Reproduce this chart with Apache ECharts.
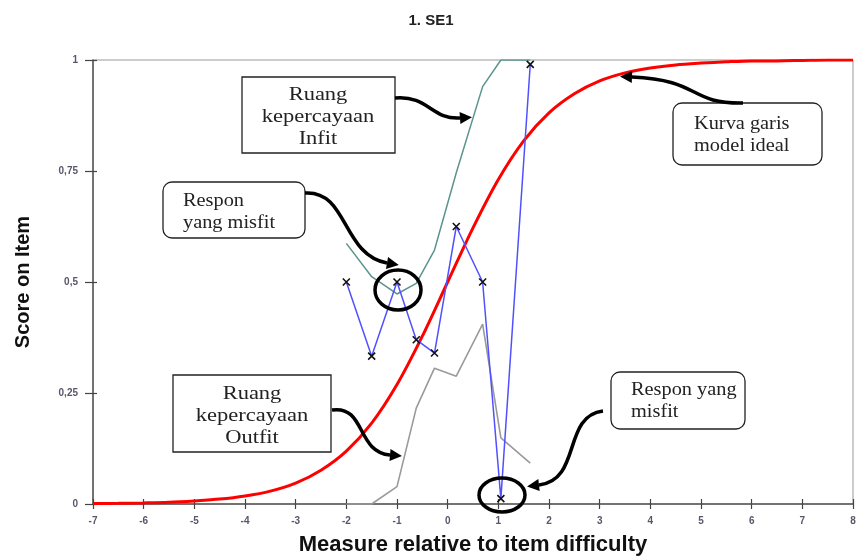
<!DOCTYPE html>
<html>
<head>
<meta charset="utf-8">
<script src="https://cdn.jsdelivr.net/npm/echarts@6.0.0/dist/echarts.min.js"></script>
<style>
  html, body { margin: 0; padding: 0; background: #fff; }
  #chart { width: 858px; height: 558px; }
</style>
</head>
<body>
<div id="chart"></div>
<script>
// item SE1
var measureX = [-2, -1.5, -1, -0.62, -0.26, 0.17, 0.69, 1.05, 1.63];
var observed = [0.5, 0.333, 0.5, 0.37, 0.34, 0.625, 0.5, 0.012, 0.99];
var infitBand = [0.587, 0.512, 0.473, 0.497, 0.572, 0.746, 0.94, 1.0, 1.0];
var outfitBand = [0, 0, 0.039, 0.216, 0.306, 0.288, 0.405, 0.149, 0.092];

// kurva model ideal
var modelX = [-7, -6.5, -6, -5.5, -5, -4.5, -4, -3.5, -3, -2.5, -2, -1.5, -1, -0.5, 0,
              0.5, 1, 1.5, 2, 2.5, 3, 3.5, 4, 4.5, 5, 5.5, 6, 6.5, 7, 7.5, 8];
var modelY = [0.001, 0.0015, 0.0025, 0.004, 0.007, 0.011, 0.018, 0.029, 0.047, 0.076, 0.119, 0.182, 0.269, 0.378, 0.5,
              0.622, 0.731, 0.818, 0.881, 0.924, 0.953, 0.971, 0.982, 0.989, 0.993, 0.996, 0.998, 0.998, 0.999, 1.0, 1.0];

var yTicks = ['0', '0,25', '0,5', '0,75', '1'];

function pairs(xs, ys) {
    var out = [];
    for (var i = 0; i < xs.length; i++) out.push([xs[i], ys[i]]);
    return out;
}

var myChart = echarts.init(document.getElementById('chart'));

var serif = '"Liberation Serif", "Times New Roman", serif';
var sans = '"Liberation Sans", Arial, sans-serif';

// kotak keterangan
function box(x, y, w, h, r, lines, tx, ty, align, sx) {
    return [
        {
            type: 'rect', z: 100,
            shape: { x: x, y: y, width: w, height: h, r: r },
            style: { fill: '#fff', stroke: '#222', lineWidth: 1.3 }
        },
        {
            type: 'text', z: 101, x: tx, y: ty, scaleX: sx,
            style: {
                text: lines, font: '18px ' + serif, fill: '#222',
                align: align, verticalAlign: 'middle', lineHeight: 22
            }
        }
    ];
}

// panah melengkung
function arrow(x0, y0, cx1, cy1, cx2, cy2, x1, y1) {
    var dx = x1 - cx2, dy = y1 - cy2;
    var len = Math.sqrt(dx * dx + dy * dy);
    dx /= len; dy /= len;
    var nx = -dy, ny = dx;
    return [
        {
            type: 'bezierCurve', z: 100,
            shape: { x1: x0, y1: y0, cpx1: cx1, cpy1: cy1, cpx2: cx2, cpy2: cy2, x2: x1, y2: y1 },
            style: { stroke: '#000', lineWidth: 3.5, fill: null }
        },
        {
            type: 'polygon', z: 100,
            shape: { points: [[x1 + dx * 12, y1 + dy * 12], [x1 + nx * 6, y1 + ny * 6], [x1 - nx * 6, y1 - ny * 6]] },
            style: { fill: '#000' }
        }
    ];
}

var graphics = [];
graphics = graphics.concat(box(242, 77, 153, 76, 0, 'Ruang\nkepercayaan\nInfit', 318, 117, 'center', 1.25));
graphics = graphics.concat(box(163, 182, 142, 56, 9, 'Respon\nyang misfit', 183, 212, 'left', 1.13));
graphics = graphics.concat(box(173, 375, 158, 77, 0, 'Ruang\nkepercayaan\nOutfit', 252, 416, 'center', 1.25));
graphics = graphics.concat(box(673, 103, 149, 62, 9, 'Kurva garis\nmodel ideal', 694, 135, 'left', 1.13));
graphics = graphics.concat(box(611, 372, 134, 57, 9, 'Respon yang\nmisfit', 631, 401, 'left', 1.13));

graphics = graphics.concat(arrow(395, 98, 428, 95, 432, 120, 460, 118));
graphics = graphics.concat(arrow(305, 193, 348, 190, 342, 255, 387, 263));
graphics = graphics.concat(arrow(332, 410, 366, 405, 356, 452, 390, 455));
graphics = graphics.concat(arrow(743, 103, 688, 104, 702, 80, 632, 77));
graphics = graphics.concat(arrow(603, 411, 562, 416, 582, 480, 539, 485));

// lingkaran respon misfit
graphics.push({
    type: 'ellipse', z: 100,
    shape: { cx: 398, cy: 290, rx: 23, ry: 20 },
    style: { fill: null, stroke: '#000', lineWidth: 3.5 }
});
graphics.push({
    type: 'ellipse', z: 100,
    shape: { cx: 502, cy: 495, rx: 23, ry: 17 },
    style: { fill: null, stroke: '#000', lineWidth: 3.5 }
});

var crossSymbol = 'path://M0,0L10,10M10,0L0,10';

var option = {
    animation: false,
    backgroundColor: '#fff',
    title: {
        text: '1. SE1',
        left: 426, top: 8,
        textAlign: 'center',
        textStyle: { fontSize: 15, fontWeight: 'bold', color: '#222', fontFamily: sans }
    },
    grid: { left: 93, right: 5, top: 60, bottom: 54, containLabel: false, outerBoundsMode: 'none',
            show: true, borderColor: '#999', borderWidth: 1 },
    xAxis: [
        {
            type: 'value', min: -7, max: 8, interval: 1, position: 'bottom',
            name: 'Measure relative to item difficulty',
            nameLocation: 'middle', nameGap: 30,
            nameTextStyle: { fontSize: 22, fontWeight: 'bold', color: '#111', fontFamily: sans },
            axisLine: { show: true, onZero: false, lineStyle: { color: '#555', width: 1.5 } },
            axisTick: { show: true, length: 5, lineStyle: { color: '#444', width: 1.2 } },
            axisLabel: { margin: 12, fontSize: 10, fontWeight: 'bold', color: '#57576a', fontFamily: sans,
                         showMaxLabel: true, showMinLabel: true },
            splitLine: { show: false }
        },
        {
            type: 'value', min: -7, max: 8, interval: 1, position: 'bottom', offset: 0,
            axisLine: { show: false, onZero: false },
            axisTick: { show: true, inside: true, length: 5, lineStyle: { color: '#444', width: 1.2 } },
            axisLabel: { show: false },
            splitLine: { show: false }
        }
    ],
    yAxis: [
        {
            type: 'value', min: 0, max: 1, interval: 0.25, position: 'left',
            name: 'Score on Item',
            nameLocation: 'middle', nameGap: 60,
            nameTextStyle: { fontSize: 20, fontWeight: 'bold', color: '#111', fontFamily: sans },
            axisLine: { show: true, onZero: false, lineStyle: { color: '#555', width: 1.5 } },
            axisTick: { show: true, length: 8, lineStyle: { color: '#444', width: 1.2 } },
            axisLabel: {
                margin: 15, fontSize: 10, fontWeight: 'bold', color: '#57576a', fontFamily: sans,
                formatter: function (v) { return yTicks[Math.round(v * 4)]; }
            },
            splitLine: { show: false }
        },
        {
            type: 'value', min: 0, max: 1, interval: 0.25, position: 'left', offset: 0,
            axisLine: { show: false, onZero: false },
            axisTick: { show: true, inside: true, length: 4, lineStyle: { color: '#444', width: 1.2 } },
            axisLabel: { show: false },
            splitLine: { show: false }
        }
    ],
    series: [
        {
            name: 'Outfit',
            type: 'line',
            data: pairs(measureX, outfitBand),
            showSymbol: false,
            clip: false,
            lineStyle: { color: '#9a9a9a', width: 1.6 },
            z: 5
        },
        {
            name: 'Infit',
            type: 'line',
            data: pairs(measureX, infitBand),
            showSymbol: false,
            lineStyle: { color: '#5b948b', width: 1.5 },
            z: 2
        },
        {
            name: 'Model',
            type: 'line',
            data: pairs(modelX, modelY),
            smooth: 0.3,
            showSymbol: false,
            lineStyle: { color: '#ff0000', width: 3 },
            z: 3
        },
        {
            name: 'Observed',
            type: 'line',
            data: pairs(measureX, observed),
            symbol: crossSymbol,
            symbolSize: 7,
            lineStyle: { color: '#5050ff', width: 1.5 },
            itemStyle: { color: 'none', borderColor: '#111', borderWidth: 1.6 },
            z: 6
        }
    ],
    graphic: graphics
};

myChart.setOption(option);
</script>
</body>
</html>
